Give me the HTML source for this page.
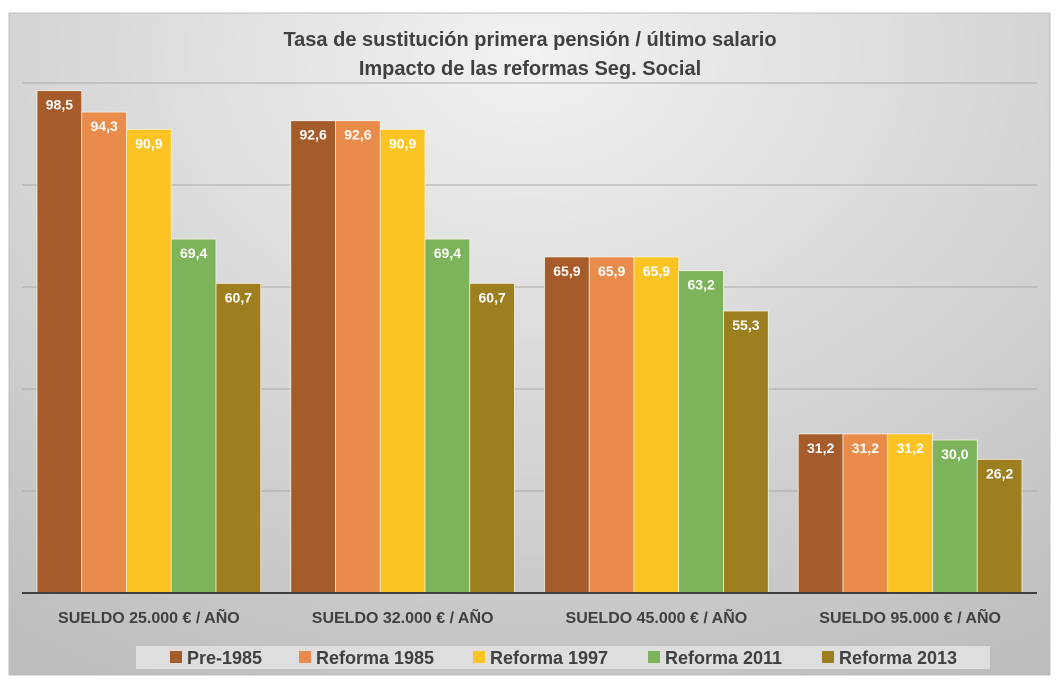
<!DOCTYPE html>
<html><head><meta charset="utf-8"><style>
body{margin:0;background:#fff;width:1060px;height:682px;overflow:hidden;font-family:"Liberation Sans",sans-serif}
</style></head><body>
<svg width="1060" height="682">
<defs><radialGradient id="bg" cx="0.5" cy="0.05" r="0.9" gradientTransform="scale(1,1.2)">
<stop offset="0" stop-color="#f2f2f2"/><stop offset="1" stop-color="#bdbdbd"/></radialGradient></defs>
<rect x="9" y="13" width="1041" height="662" fill="url(#bg)" stroke="#bdbdbd"/>
<text x="530" y="46" text-anchor="middle" font-size="20" font-weight="bold" fill="#404040">Tasa de sustitución primera pensión / último salario</text>
<text x="530" y="75" text-anchor="middle" font-size="20" font-weight="bold" fill="#404040">Impacto de las reformas Seg. Social</text>
<g id="grid"></g><g id="bars"></g><g id="xl"></g>
<line x1="22" y1="593" x2="1037" y2="593" stroke="#404040" stroke-width="2"/>
<rect x="136" y="646" width="854" height="23" fill="#dedede"/>
<g id="leg"></g>
</svg>
<script>
const categories=["SUELDO 25.000 € / AÑO","SUELDO 32.000 € / AÑO","SUELDO 45.000 € / AÑO","SUELDO 95.000 € / AÑO"];
const seriesNames=["Pre-1985","Reforma 1985","Reforma 1997","Reforma 2011","Reforma 2013"];
const pre1985=[98.5,92.6,65.9,31.2];
const ref1985=[94.3,92.6,65.9,31.2];
const ref1997=[90.9,90.9,65.9,31.2];
const ref2011=[69.4,69.4,63.2,30.0];
const ref2013=[60.7,60.7,55.3,26.2];
const gridTicks=[20,40,60,80,100];
const series=[pre1985,ref1985,ref1997,ref2011,ref2013];
const colors=["#a65b2a","#e98b4b","#fbc423","#7db35a","#9e7f20"];
const NS="http://www.w3.org/2000/svg";
const x0=22,x1=1037,base=593,pxPerUnit=5.1;
const y=v=>base-v*pxPerUnit;
const cw=(x1-x0)/categories.length,pad=15,bw=(cw-2*pad)/series.length;
function mk(t,a,p){const e=document.createElementNS(NS,t);for(const k in a)e.setAttribute(k,a[k]);p.appendChild(e);return e;}
const g=document.getElementById('grid');
gridTicks.forEach(t=>{const l=mk('line',{x1:x0,x2:x1,y1:y(t),y2:y(t),stroke:'#aaaaaa'},g);

});
const b=document.getElementById('bars');
series.forEach((s,si)=>s.forEach((v,ci)=>{
 const x=x0+ci*cw+pad+si*bw;
 const r=mk('rect',{x:x,y:y(v),width:bw,height:v*pxPerUnit,fill:colors[si],stroke:'#f5f0e0','stroke-width':0.8},b);
 
 
 const t=mk('text',{x:x+bw/2,y:y(v)+19,'text-anchor':'middle','font-size':14,'font-weight':'bold',fill:'#fff'},b);
 t.textContent=v.toFixed(1).replace('.',',');
 
 
}));
const xl=document.getElementById('xl');
categories.forEach((c,i)=>{const t=mk('text',{x:x0+(i+0.5)*cw,y:623,'text-anchor':'middle','font-size':16,'font-weight':'bold',fill:'#404040'},xl);
t.textContent=c;

});
const lg=document.getElementById('leg');
const lx=[170,299,473,648,822];
seriesNames.forEach((n,i)=>{const r=mk('rect',{x:lx[i],y:651,width:12,height:12,fill:colors[i]},lg);


const t=mk('text',{x:lx[i]+17,y:664,'font-size':18,'font-weight':'bold',fill:'#404040'},lg);
t.textContent=n;

});
</script>
</body></html>
